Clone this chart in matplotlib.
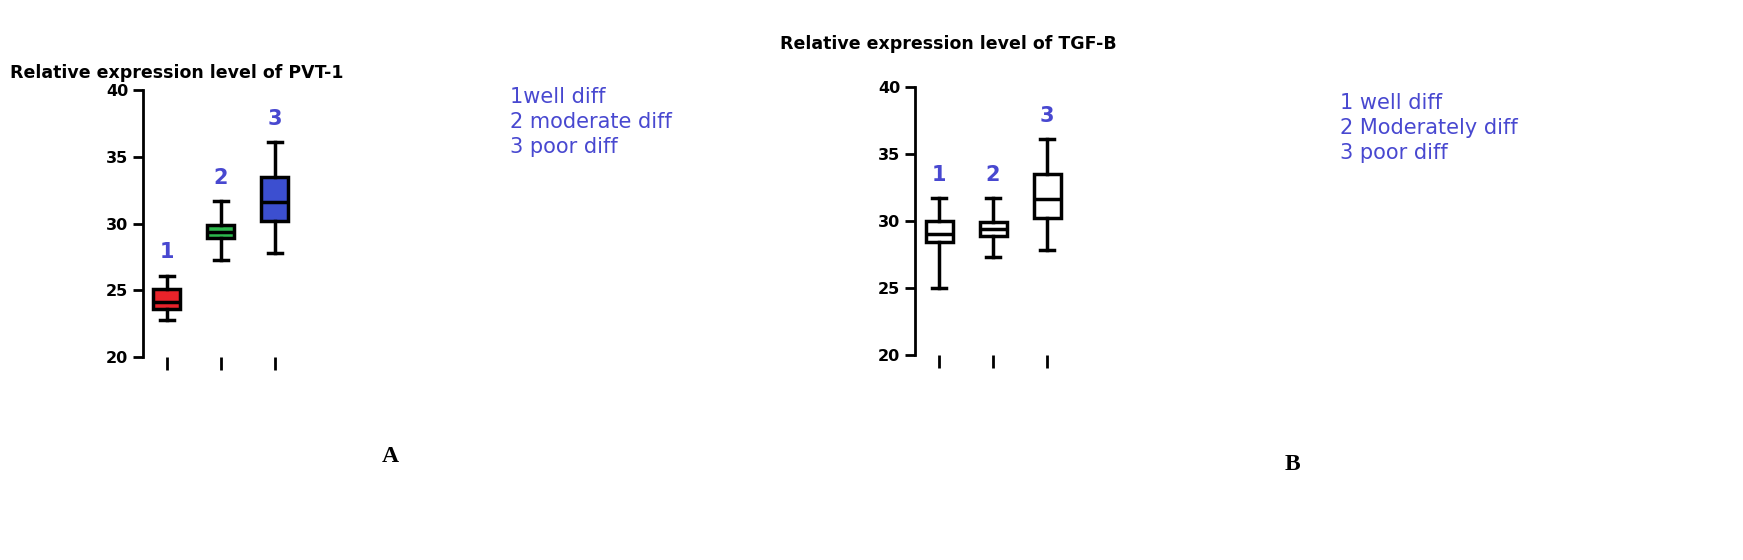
import matplotlib.pyplot as plt

labels = ["1", "2", "3"]
pvt_whislo = [22.8, 27.3, 27.8]
pvt_q1 = [23.6, 28.9, 30.2]
pvt_med = [24.1, 29.4, 31.6]
pvt_q3 = [25.1, 29.9, 33.5]
pvt_whishi = [26.1, 31.7, 36.1]
pvt_colors = ["#e8232a", "#2db84d", "#3c4fd0"]

tgf_whislo = [25.0, 27.3, 27.8]
tgf_q1 = [28.4, 28.9, 30.2]
tgf_med = [29.0, 29.4, 31.6]
tgf_q3 = [30.0, 29.9, 33.5]
tgf_whishi = [31.7, 31.7, 36.1]

legend_a = ["1well diff", "2 moderate diff", "3 poor diff"]
legend_b = ["1 well diff", "2 Moderately diff", "3 poor diff"]
blue = "#4848d0"

fig = plt.figure(figsize=(17.43, 5.6), dpi=100)


def panel(rect, lo, q1, med, q3, hi, colors):
    ax = fig.add_axes(rect)
    stats = [dict(whislo=a, q1=b, med=c, q3=d, whishi=e, fliers=[])
             for a, b, c, d, e in zip(lo, q1, med, q3, hi)]
    bp = ax.bxp(stats, positions=[1, 2, 3], widths=0.5, patch_artist=True,
                boxprops=dict(linewidth=2.5, edgecolor="black"),
                whiskerprops=dict(linewidth=2.5), capprops=dict(linewidth=2.5),
                medianprops=dict(color="black", linewidth=2.5))
    for p, c in zip(bp["boxes"], colors):
        p.set_facecolor(c)
    for i, h in enumerate(hi):
        ax.text(i + 1, h + 1.0, labels[i], color=blue, fontsize=15,
                ha="center", va="bottom", fontweight="bold")
    ax.set_xlim(0.556, 3.46)
    ax.set_ylim(20, 40)
    ax.set_yticks([20, 25, 30, 35, 40])
    ax.set_xticks([1, 2, 3])
    ax.set_xticklabels([])
    for s in ["top", "right", "bottom"]:
        ax.spines[s].set_visible(False)
    ax.spines["left"].set_linewidth(2)
    ax.tick_params(axis="both", width=2, length=7, labelsize=11.5)
    ax.tick_params(axis="x", length=9)
    for t in ax.get_yticklabels():
        t.set_fontweight("bold")
    return ax


panel([0.082, 0.3625, 0.09, 0.4765], pvt_whislo, pvt_q1, pvt_med, pvt_q3,
      pvt_whishi, pvt_colors)
panel([0.525, 0.366, 0.09, 0.479], tgf_whislo, tgf_q1, tgf_med, tgf_q3,
      tgf_whishi, ["white"] * 3)

fig.text(10 / 1743, 1 - 73 / 560, "Relative expression level of PVT-1",
         fontsize=12.5, fontweight="bold", va="center")
fig.text(780 / 1743, 1 - 44 / 560, "Relative expression level of TGF-B",
         fontsize=12.5, fontweight="bold", va="center")
for i, s in enumerate(legend_a):
    fig.text(510 / 1743, 1 - (97 + 25 * i) / 560, s, color=blue, fontsize=15,
             va="center")
for i, s in enumerate(legend_b):
    fig.text(1340 / 1743, 1 - (103 + 25 * i) / 560, s, color=blue, fontsize=15,
             va="center")
fig.text(390 / 1743, 1 - 457 / 560, "A", fontsize=17, fontweight="bold",
         family="Liberation Serif", ha="center", va="center")
fig.text(1292 / 1743, 1 - 465 / 560, "B", fontsize=17, fontweight="bold",
         family="Liberation Serif", ha="center", va="center")

fig.savefig("out.png", dpi=100)
